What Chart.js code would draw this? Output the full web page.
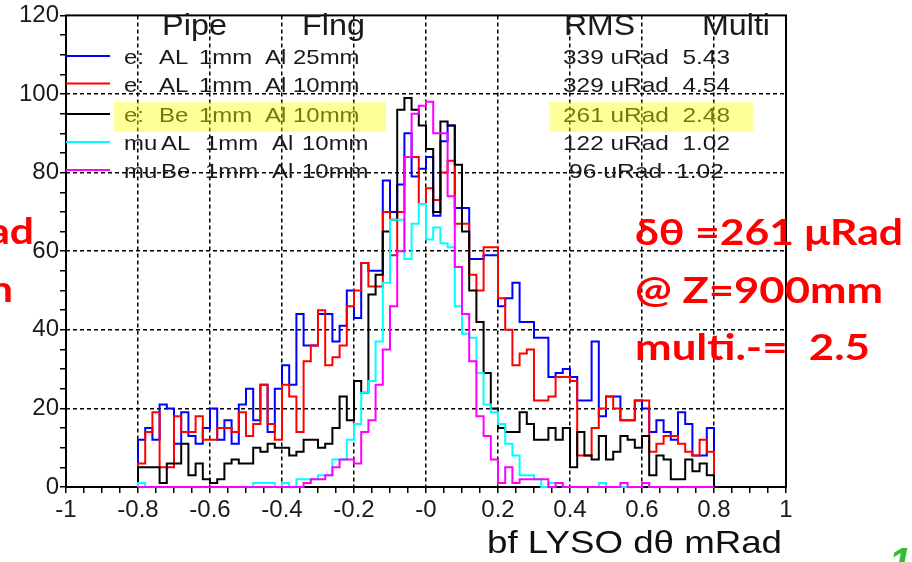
<!DOCTYPE html>
<html>
<head>
<meta charset="utf-8">
<script src="https://cdn.jsdelivr.net/npm/chart.js@4.4.1/dist/chart.umd.min.js"></script>
<style>
  html, body { margin: 0; padding: 0; background: #fff; overflow: hidden; }
  canvas { display: block; }
</style>
</head>
<body>
<canvas id="c" width="912" height="562"></canvas>
<script>
// 80 bins, 0.02 mRad wide, from -0.8 to 0.8
const binStart = -0.8;
const binWidth = 0.02;

// e  AL 1mm  Al 25mm (blue)
const eAl25 = [12, 15, 12, 21, 20, 11, 19, 13, 11, 15,
               20, 12, 17, 11, 21, 25, 17, 26, 14, 25,
               31, 26, 44, 36, 36, 44, 44, 37, 41, 50,
               43, 57, 55, 55, 78, 70, 77, 90, 79, 81,
               84, 69, 88, 92, 71, 71, 58, 58, 59, 59,
               46, 48, 52, 42, 42, 38, 38, 28, 29, 30,
               28, 22, 22, 37, 18, 23, 23, 17, 17, 22,
               20, 14, 17, 14, 12, 19, 16, 8, 8, 15];
// e  AL 1mm  Al 10mm (red)
const eAl10 = [6, 14, 19, 5, 5, 18, 14, 14, 18, 12,
               12, 15, 15, 14, 19, 13, 16, 26, 16, 12,
               26, 23, 14, 32, 36, 45, 31, 33, 36, 46,
               50, 57, 51, 51, 70, 59, 70, 84, 84, 72,
               76, 73, 80, 83, 67, 67, 54, 50, 61, 61,
               48, 40, 31, 34, 35, 22, 22, 23, 28, 28,
               27, 8, 8, 15, 20, 23, 20, 17, 17, 22,
               22, 9, 11, 13, 13, 11, 9, 8, 12, 9];
// e  Be 1mm  Al 10mm (black)
const eBe10 = [5, 5, 5, 1, 6, 6, 11, 3, 6, 2,
               1, 2, 6, 7, 6, 6, 10, 9, 11, 10,
               10, 8, 9, 12, 12, 10, 11, 15, 23, 17,
               27, 24, 49, 54, 65, 68, 96, 99, 96, 92,
               86, 70, 93, 92, 82, 65, 50, 42, 29, 20,
               15, 14, 14, 19, 16, 12, 12, 15, 12, 15,
               5, 14, 8, 7, 13, 7, 9, 13, 12, 10,
               13, 3, 8, 7, 2, 2, 7, 4, 6, 3];
// mu AL 1mm  Al 10mm (cyan)
const muAl10 = [1, 0, 0, 0, 0, 0, 0, 0, 0, 0,
                0, 0, 0, 0, 0, 0, 1, 1, 1, 0,
                1, 0, 2, 2, 2, 3, 3, 7, 7, 12,
                16, 24, 27, 37, 52, 68, 68, 58, 67, 72,
                63, 66, 62, 61, 46, 39, 38, 29, 21, 19,
                16, 11, 8, 3, 3, 2, 0, 1, 1, 0,
                0, 0, 0, 0, 1, 0, 0, 0, 0, 0,
                1, 0, 0, 0, 0, 0, 0, 0, 0, 0];
// mu Be 1mm  Al 10mm (magenta)
const muBe10 = [0, 0, 0, 0, 0, 0, 0, 0, 0, 0,
                0, 0, 0, 0, 0, 0, 0, 0, 0, 0,
                0, 0, 0, 1, 2, 2, 3, 5, 7, 7,
                6, 14, 17, 26, 35, 46, 60, 84, 95, 97,
                98, 90, 90, 74, 56, 44, 32, 18, 13, 7,
                1, 5, 1, 2, 2, 2, 2, 0, 1, 0,
                0, 0, 0, 0, 0, 0, 0, 1, 0, 0,
                1, 0, 0, 0, 0, 0, 0, 0, 0, 0];

const xTickLabels = ['-1', '-0.8', '-0.6', '-0.4', '-0.2', '-0', '0.2', '0.4', '0.6', '0.8', '1'];
const yTickLabels = ['0', '20', '40', '60', '80', '100', '120'];

// legend: particle, pipe material, flange thickness, RMS / multiplicity
const legendParticle = ['e:', 'e:', 'e:', 'mu', 'mu'];
const legendPipe = ['AL', 'AL', 'Be', 'AL', 'Be'];
const legendFlange = ['25mm', '10mm', '10mm', '10mm', '10mm'];
const legendRms = ['339 uRad  5.43', '329 uRad  4.54', '261 uRad  2.48', '122 uRad  1.02', '96 uRad  1.02'];
const seriesColors = ['#0000ff', '#ff0000', '#000000', '#00ffff', '#ff00ff'];
const seriesData = [eAl25, eAl10, eBe10, muAl10, muBe10];

function histPoints(vals) {
  const pts = [{ x: binStart, y: 0 }];
  vals.forEach((v, i) => pts.push({ x: binStart + i * binWidth, y: v }));
  pts.push({ x: binStart + vals.length * binWidth, y: 0 });
  return pts;
}

function drawText(ctx, str, x, y, font, color, opt) {
  opt = opt || {};
  ctx.save();
  ctx.font = font;
  ctx.fillStyle = color;
  ctx.textBaseline = 'alphabetic';
  ctx.textAlign = opt.align || 'left';
  let sx = opt.sx || 1;
  if (opt.width) sx = opt.width / ctx.measureText(str).width;
  ctx.translate(x, y);
  ctx.scale(sx, 1);
  ctx.fillText(str, 0, 0);
  ctx.restore();
  return sx;
}

const SANS = '"Liberation Sans", Arial, sans-serif';
const TXT = '#1a1a1a';

const decor = {
  id: 'decor',
  beforeDatasetsDraw(chart) {
    const { ctx, chartArea: a } = chart;
    ctx.save();
    ctx.strokeStyle = '#000';
    ctx.lineWidth = 2;
    ctx.strokeRect(a.left, a.top, a.right - a.left, a.bottom - a.top);
    ctx.restore();
  },
  afterDraw(chart) {
    const ctx = chart.ctx;
    // headers
    drawText(ctx, 'Pipe', 162, 35, '30px ' + SANS, TXT, { width: 65 });
    drawText(ctx, 'Flng', 302, 35, '30px ' + SANS, TXT, { width: 63 });
    drawText(ctx, 'RMS', 564, 35, '30px ' + SANS, TXT, { width: 71 });
    drawText(ctx, 'Multi', 702, 35, '30px ' + SANS, TXT, { width: 68 });

    const baselines = [64, 92, 121.5, 150, 178];
    const lineYs = [56, 83.5, 114, 142, 170];
    const f = '21px ' + SANS;
    for (let i = 0; i < 5; i++) {
      ctx.save();
      ctx.strokeStyle = seriesColors[i];
      ctx.lineWidth = 2;
      ctx.beginPath();
      ctx.moveTo(66, lineYs[i]);
      ctx.lineTo(110, lineYs[i]);
      ctx.stroke();
      ctx.restore();
      const b = baselines[i];
      const mu = i >= 3;
      drawText(ctx, legendParticle[i], 124, b, f, TXT, { sx: 1.14 });
      drawText(ctx, legendPipe[i], mu ? 161 : 159, b, f, TXT, { sx: 1.14 });
      drawText(ctx, '1mm', mu ? 205 : 199, b, f, TXT, { sx: 1.14 });
      drawText(ctx, 'Al', mu ? 272 : 265, b, f, TXT, { sx: 1.14 });
      drawText(ctx, legendFlange[i], mu ? 302 : 293, b, f, TXT, { sx: 1.14 });
      if (i < 4) drawText(ctx, legendRms[i], 563, b, f, TXT, { width: 167 });
      else drawText(ctx, legendRms[i], 569, b, f, TXT, { width: 155 });
    }
    // highlight of the Be pipe line
    ctx.save();
    ctx.fillStyle = 'rgba(255,255,0,0.4)';
    ctx.fillRect(114, 102, 272, 30);
    ctx.fillRect(549, 102, 204, 30);
    ctx.restore();

    // axis title
    drawText(ctx, 'bf LYSO d\u03b8 mRad', 487, 553, '32px ' + SANS, '#111', { width: 295 });

    // red annotations
    const RF = 'bold 37px Lato, "Liberation Sans", sans-serif';
    const sx = drawText(ctx, '\u03b4\u03b8 =261 \u03bcRad', 635, 245, RF, '#ff0000', { width: 268 });
    drawText(ctx, '@ Z=900mm', 635, 303, RF, '#ff0000', { width: 248 });
    drawText(ctx, 'multi.-=  2.5', 635, 360, RF, '#ff0000', { width: 235 });
    drawText(ctx, '\u03b4\u03b8 =339 \u03bcRad', 34, 244, RF, '#ff0000', { sx: sx, align: 'right' });
    drawText(ctx, '@ Z=900mm', 13, 302, RF, '#ff0000', { sx: sx, align: 'right' });
    // page number
    drawText(ctx, '1', 889, 576, 'italic bold 40px ' + SANS, '#2fbf2f');
  }
};

const isMult = (v, s) => Math.abs(v / s - Math.round(v / s)) < 1e-6;

new Chart(document.getElementById('c'), {
  type: 'line',
  data: {
    datasets: seriesData.map((vals, i) => ({
      label: 'series' + i,
      data: histPoints(vals),
      borderColor: seriesColors[i],
      borderWidth: 2,
      pointRadius: 0,
      stepped: 'before',
      fill: false,
      clip: false,
      order: 5 - i
    }))
  },
  options: {
    responsive: false,
    animation: false,
    events: [],
    layout: { padding: { left: 0, top: 7, right: 126, bottom: 0 } },
    plugins: { legend: { display: false }, tooltip: { enabled: false } },
    scales: {
      x: {
        type: 'linear',
        min: -1,
        max: 1,
        afterFit: s => { s.height = 75; },
        border: { display: false, dash: [4, 3] },
        grid: {
          lineWidth: 1.5,
          color: c => (isMult(c.tick.value, 0.2) && Math.abs(c.tick.value) < 0.99) ? '#000' : 'rgba(0,0,0,0)',
          tickColor: '#000',
          tickLength: 6,
          tickWidth: 1.5
        },
        ticks: {
          stepSize: 0.05,
          autoSkip: false,
          maxRotation: 0,
          minRotation: 0,
          padding: 3,
          color: TXT,
          font: { family: SANS, size: 24 },
          callback: v => isMult(v, 0.2) ? xTickLabels[Math.round((v + 1) * 5)] : ''
        }
      },
      y: {
        min: 0,
        max: 120,
        afterFit: s => { s.width = 66; },
        border: { display: false, dash: [4, 3] },
        grid: {
          lineWidth: 1.5,
          color: c => (c.tick.value % 20 === 0 && c.tick.value > 0 && c.tick.value < 120) ? '#000' : 'rgba(0,0,0,0)',
          tickColor: '#000',
          tickLength: 6,
          tickWidth: 1.5
        },
        ticks: {
          stepSize: 5,
          autoSkip: false,
          padding: 1,
          color: TXT,
          font: { family: SANS, size: 24 },
          callback: v => v % 20 === 0 ? yTickLabels[v / 20] : ''
        }
      }
    }
  },
  plugins: [decor]
});
</script>
</body>
</html>
